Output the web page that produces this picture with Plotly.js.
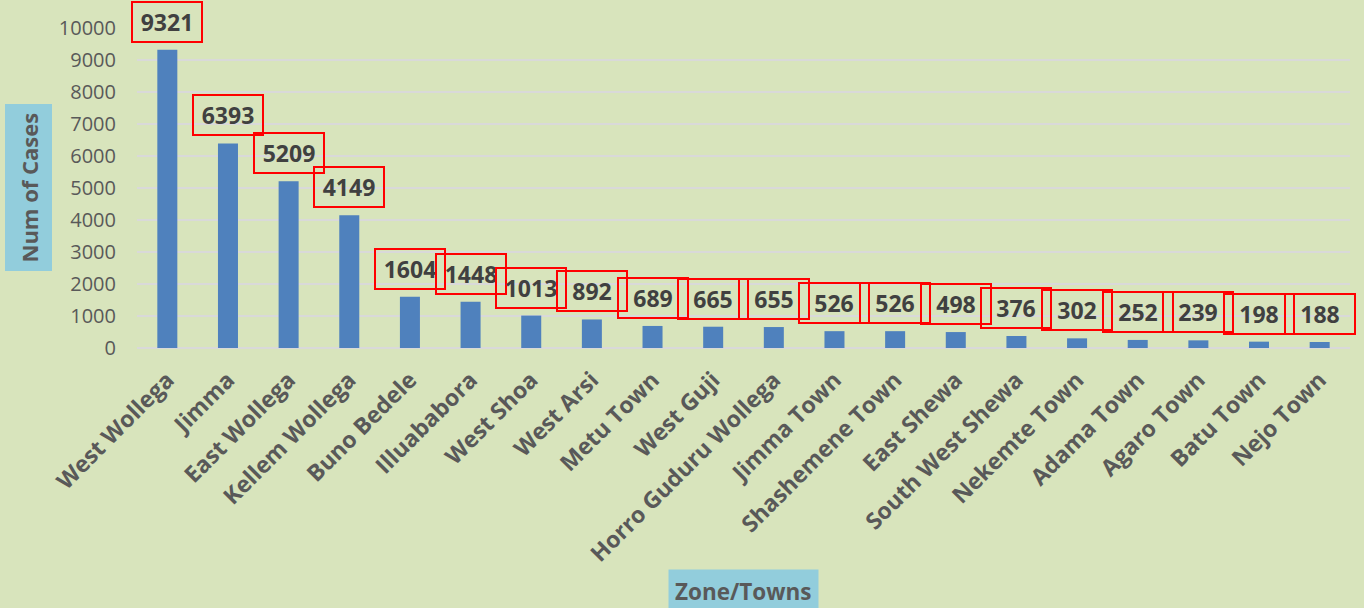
<!DOCTYPE html>
<html>
<head>
<meta charset="utf-8">
<script src="https://cdn.plot.ly/plotly-3.0.1.min.js"></script>
<style>html,body{margin:0;padding:0;background:#D8E4BC;}#chart{width:1364px;height:608px;}</style>
</head>
<body>
<div id="chart"></div>
<script>
const categories = ["West Wollega","Jimma","East Wollega","Kellem Wollega","Buno Bedele","Illuababora","West Shoa","West Arsi","Metu Town","West Guji","Horro Guduru Wollega","Jimma Town","Shashemene Town","East Shewa","South West Shewa","Nekemte Town","Adama Town","Agaro Town","Batu Town","Nejo Town"];
const cases = [9321,6393,5209,4149,1604,1448,1013,892,689,665,655,526,526,498,376,302,252,239,198,188];
const yTickValues = [0,1000,2000,3000,4000,5000,6000,7000,8000,9000,10000];
const yTickLabels = ["0","1000","2000","3000","4000","5000","6000","7000","8000","9000","10000"];
const xAxisTitle = "Zone/Towns";
const yAxisTitle = "Num of Cases";

const bg = "#D8E4BC";
const labelAnnotations = categories.map((c, i) => ({
  x: c, y: cases[i], xref: "x", yref: "y",
  text: "<b>" + cases[i] + "</b>",
  showarrow: false, yanchor: "bottom", yshift: 7,
  font: {family: "Open Sans", size: 23, color: "#404040"},
  bordercolor: "#FF0000", borderwidth: 2, borderpad: 3,
  width: 62, height: 32, bgcolor: "rgba(0,0,0,0)"
}));

const titleAnnotations = [
  {x: 0, y: 0.5, xref: "paper", yref: "paper", xanchor: "center", yanchor: "middle", xshift: -108.5,
   text: "<b>" + yAxisTitle + "</b>",
   textangle: -90, showarrow: false, font: {family: "Open Sans", size: 22, color: "#595959"},
   bgcolor: "#92CDDC", borderpad: 8},
  {x: 0.5, y: 0, xref: "paper", yref: "paper", xanchor: "center", yanchor: "top", yshift: -221,
   text: "<b>" + xAxisTitle + "</b>",
   showarrow: false, font: {family: "Open Sans", size: 22.5, color: "#595959"},
   bgcolor: "#92CDDC", borderpad: 6}
];

const trace = {
  type: "bar", x: categories, y: cases,
  marker: {color: "#4F81BD", line: {color: "#4F81BD", width: 0}},
  hoverinfo: "x+y"
};

const layout = {
  width: 1364, height: 608,
  paper_bgcolor: bg, plot_bgcolor: bg,
  margin: {l: 137, r: 14, t: 28, b: 260, autoexpand: false},
  bargap: 0.67,
  showlegend: false,
  xaxis: {
    type: "category", range: [-0.5, categories.length - 0.5], tickangle: -45,
    showgrid: false, zeroline: false, showline: false,
    ticks: "", ticklabelstandoff: 13, automargin: false,
    tickfont: {family: "Open Sans", size: 23, color: "#595959", weight: "bold"}
  },
  yaxis: {
    range: [0, 10000], tickvals: yTickValues, ticktext: yTickLabels, showgrid: true, gridcolor: "#D9D9D9", gridwidth: 2,
    zeroline: true, zerolinecolor: "#D9D9D9", zerolinewidth: 2, showline: false, ticks: "",
    ticklabelstandoff: 20, automargin: false,
    tickfont: {family: "Open Sans", size: 20, color: "#595959"}
  },
  annotations: labelAnnotations.concat(titleAnnotations)
};

Plotly.newPlot("chart", [trace], layout, {displayModeBar: false, staticPlot: true});
</script>
</body>
</html>
